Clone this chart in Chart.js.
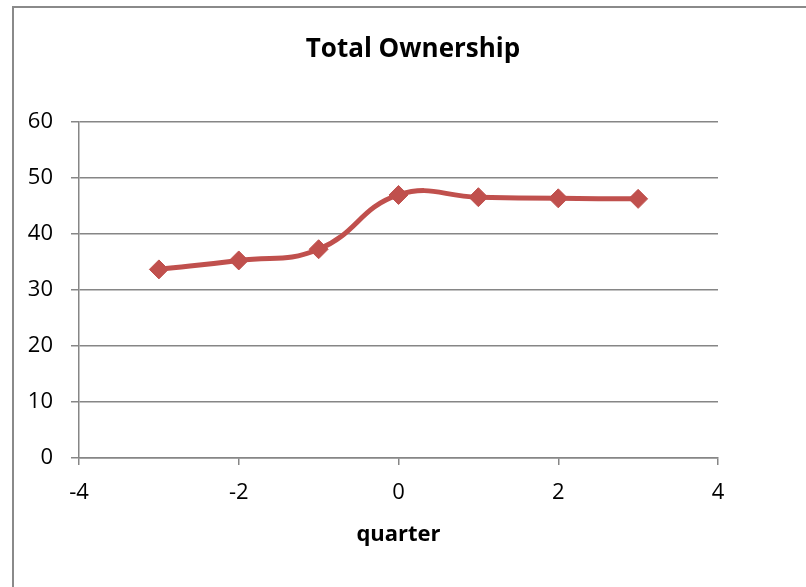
<!DOCTYPE html>
<html>
<head>
<meta charset="utf-8">
<script src="https://cdn.jsdelivr.net/npm/chart.js@4/dist/chart.umd.min.js"></script>
<style>
  html, body { margin: 0; padding: 0; background: #fff; overflow: hidden; }
  #wrap { position: relative; width: 806px; height: 587px; overflow: hidden; }
  #frame { position: absolute; left: 12px; top: 6px; width: 1000px; height: 1000px;
           border-left: 2px solid #8a8a8a; border-top: 2px solid #8a8a8a; }
  canvas { position: absolute; left: 0; top: 0; }
</style>
</head>
<body>
<div id="wrap">
  <div id="frame"></div>
  <canvas id="c" width="806" height="587"></canvas>
</div>
<script>
// Data
const quarters = [-3, -2, -1, 0, 1, 2, 3];
const ownership = [33.7, 35.3, 37.3, 47.0, 46.6, 46.4, 46.3];
const xTickValues = [-4, -2, 0, 2, 4];
const yTickValues = [0, 10, 20, 30, 40, 50, 60];
const chartTitle = 'Total Ownership';
const xAxisTitle = 'quarter';

const points = quarters.map((q, i) => ({ x: q, y: ownership[i] }));
const red = '#C0504D';
const gray = '#868686';
const fontFamily = '"Open Sans", Lato, sans-serif';

new Chart(document.getElementById('c'), {
  type: 'line',
  data: {
    datasets: [{
      data: points,
      borderColor: red,
      backgroundColor: red,
      borderWidth: 5,
      tension: 0.45,
      pointStyle: 'rectRot',
      pointRadius: 9.5,
      pointBorderWidth: 1,
      pointBorderColor: red,
      pointBackgroundColor: red,
      fill: false,
      yAxisID: 'y'
    }]
  },
  options: {
    responsive: false,
    animation: false,
    layout: { padding: { left: 20, right: 0, top: 0, bottom: 0 } },
    plugins: {
      legend: { display: false },
      tooltip: { enabled: false },
      title: {
        display: true,
        text: chartTitle,
        color: '#000',
        font: { family: fontFamily, size: 26, weight: 'bold', lineHeight: 1.2 },
        padding: { top: 34, bottom: 57 }
      }
    },
    scales: {
      x: {
        type: 'linear',
        min: -4, max: 4,
        afterBuildTicks: (s) => { s.ticks = xTickValues.map(v => ({ value: v })); },
        afterFit: (s) => { s.height = 129; },
        grid: { display: true, drawOnChartArea: false, drawTicks: true, tickLength: 7, color: gray, lineWidth: 1.5 },
        border: { display: true, color: gray, width: 1.5 },
        ticks: { color: '#000', font: { family: fontFamily, size: 22, lineHeight: 1.2 }, padding: 15, maxRotation: 0 },
        title: {
          display: true, text: xAxisTitle, color: '#000',
          font: { family: fontFamily, size: 22, weight: 'bold', lineHeight: 1.2 },
          padding: { top: 0, bottom: 39 }
        }
      },
      y: {
        type: 'linear',
        position: 'left',
        min: 0, max: 60,
        afterBuildTicks: (s) => { s.ticks = yTickValues.map(v => ({ value: v })); },
        afterFit: (s) => { s.width = 59; },
        grid: { display: true, drawTicks: true, tickLength: 8, color: gray, lineWidth: 1.5 },
        border: { display: true, color: gray, width: 1.5 },
        ticks: { color: '#000', font: { family: fontFamily, size: 22 }, padding: 18 }
      },
      yRight: {
        type: 'linear',
        position: 'right',
        min: 0, max: 60,
        afterFit: (s) => { s.width = 88; },
        grid: { display: false, drawTicks: false },
        border: { display: false },
        ticks: { display: false }
      }
    }
  }
});
</script>
</body>
</html>
